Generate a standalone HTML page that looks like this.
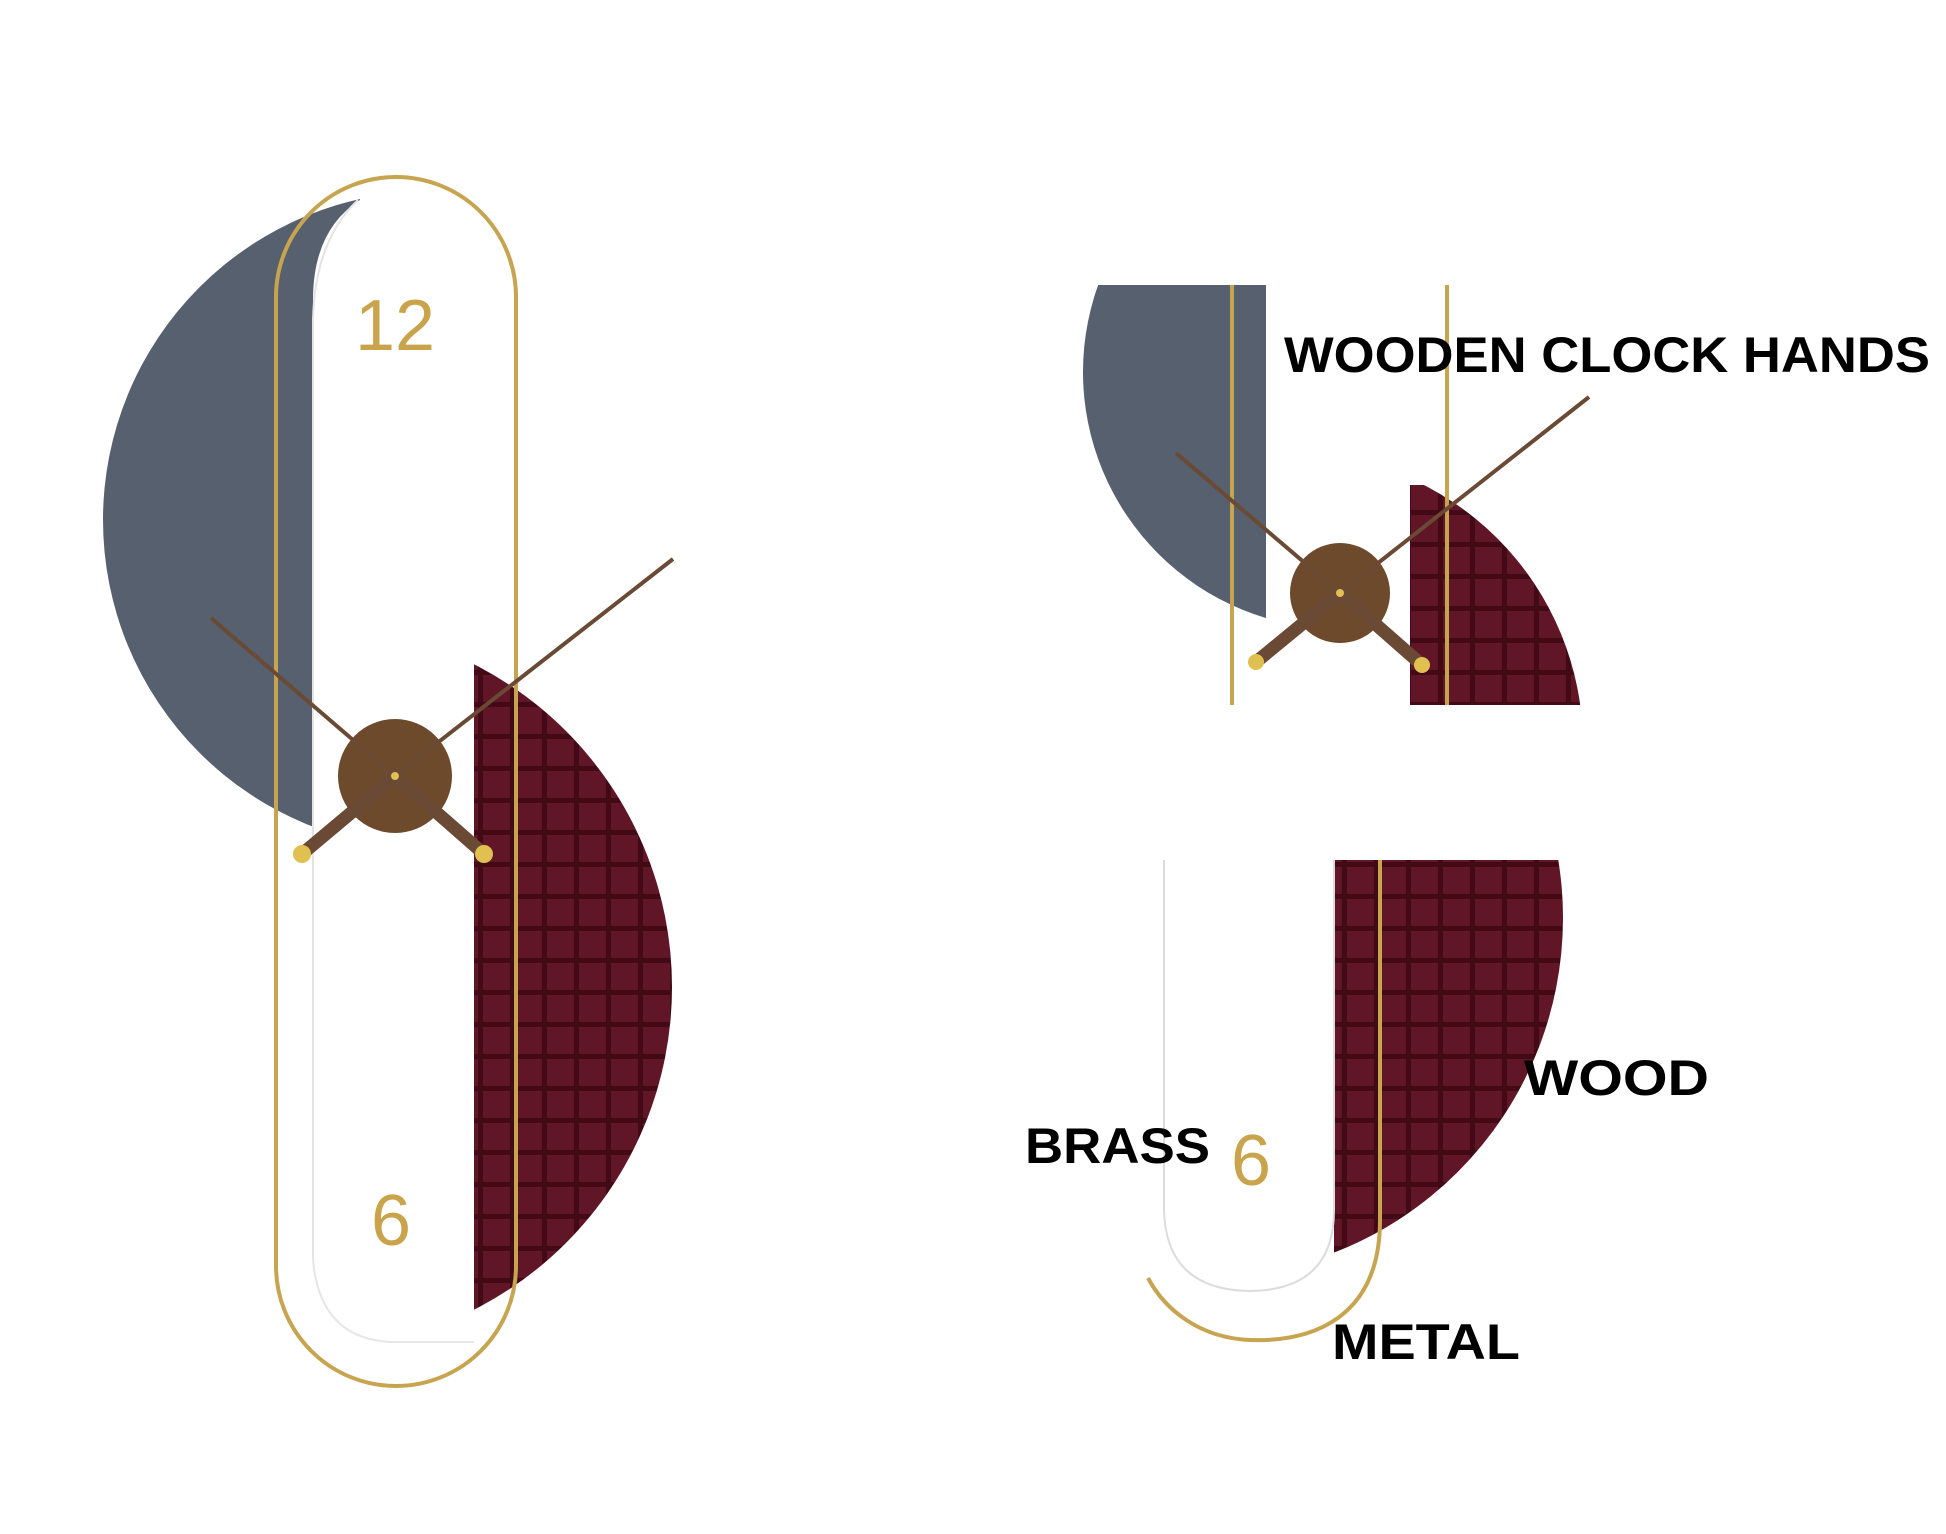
<!DOCTYPE html>
<html><head><meta charset="utf-8"><style>
html,body{margin:0;padding:0;background:#fff;}
svg{display:block;}
text{font-family:"Liberation Sans",sans-serif;font-weight:bold;}
</style></head><body>
<svg width="1946" height="1534" viewBox="0 0 1946 1534" xmlns="http://www.w3.org/2000/svg">
<defs>
<pattern id="grid" x="0" y="0" width="32" height="32" patternUnits="userSpaceOnUse">
<rect width="32" height="32" fill="#420a16"/>
<rect x="3" y="3" width="27" height="27" fill="#601626"/>
</pattern>
<clipPath id="cg1"><rect x="0" y="0" width="360" height="1534"/></clipPath>
<clipPath id="cm1"><rect x="473" y="656" width="400" height="800"/></clipPath>
<clipPath id="cg2"><rect x="1083" y="285" width="183" height="420"/></clipPath>
<clipPath id="cm2"><rect x="1410" y="485" width="175" height="220"/></clipPath>
<clipPath id="cm3"><rect x="1334" y="860" width="230" height="480"/></clipPath>
</defs>
<rect width="1946" height="1534" fill="#fff"/>

<!-- LEFT CLOCK -->
<circle cx="432" cy="520" r="329" fill="#56606e" clip-path="url(#cg1)"/>
<circle cx="310" cy="987" r="362" fill="url(#grid)" clip-path="url(#cm1)"/>
<path d="M313,1340 L313,300 Q313,230 360,200 L474,200 L474,1340 Z" fill="#fff"/>
<path d="M313,1260 L313,320 Q315,240 358,200" fill="none" stroke="#e4e4e4" stroke-width="2"/>
<path d="M313,1260 Q320,1340 393,1342 L474,1342" fill="none" stroke="#e6e6e6" stroke-width="2"/>
<rect x="276" y="177" width="240" height="1209" rx="120" ry="120" fill="none" stroke="#c7a450" stroke-width="4"/>
<text x="395" y="350" font-size="72" fill="#c9a44c" text-anchor="middle" style="font-weight:normal">12</text>
<text x="391" y="1245" font-size="72" fill="#c9a44c" text-anchor="middle" style="font-weight:normal">6</text>
<circle cx="395" cy="776" r="57" fill="#6e4a2c"/>
<line x1="395" y1="776" x2="673" y2="559" stroke="#6a4a34" stroke-width="4"/>
<line x1="395" y1="776" x2="211" y2="618" stroke="#6a4a34" stroke-width="4"/>
<line x1="395" y1="776" x2="302" y2="854" stroke="#6a4a34" stroke-width="13" stroke-linecap="round"/>
<line x1="395" y1="776" x2="484" y2="854" stroke="#6a4a34" stroke-width="13" stroke-linecap="round"/>
<circle cx="302" cy="854" r="9" fill="#e0c050"/>
<circle cx="484" cy="854" r="9" fill="#e0c050"/>
<circle cx="395" cy="776" r="4" fill="#e0c050"/>

<!-- RIGHT TOP -->
<circle cx="1340" cy="372" r="257" fill="#56606e" clip-path="url(#cg2)"/>
<circle cx="1291" cy="745" r="292" fill="url(#grid)" clip-path="url(#cm2)"/>
<line x1="1232" y1="285" x2="1232" y2="705" stroke="#c7a450" stroke-width="4"/>
<line x1="1447" y1="285" x2="1447" y2="705" stroke="#c7a450" stroke-width="4"/>
<circle cx="1340" cy="593" r="50" fill="#6e4a2c"/>
<line x1="1340" y1="593" x2="1589" y2="397" stroke="#6a4a34" stroke-width="4"/>
<line x1="1340" y1="593" x2="1176" y2="453" stroke="#6a4a34" stroke-width="4"/>
<line x1="1340" y1="593" x2="1256" y2="662" stroke="#6a4a34" stroke-width="13" stroke-linecap="round"/>
<line x1="1340" y1="593" x2="1422" y2="665" stroke="#6a4a34" stroke-width="13" stroke-linecap="round"/>
<circle cx="1256" cy="662" r="8" fill="#e0c050"/>
<circle cx="1422" cy="665" r="8" fill="#e0c050"/>
<circle cx="1340" cy="593" r="4" fill="#e0c050"/>
<text x="1284" y="372" font-size="50" fill="#000" textLength="646" lengthAdjust="spacingAndGlyphs">WOODEN  CLOCK HANDS</text>

<!-- RIGHT BOTTOM -->
<circle cx="1204" cy="918" r="359" fill="url(#grid)" clip-path="url(#cm3)"/>
<path d="M1164,860 L1164,1210 Q1166,1290 1250,1291 Q1334,1290 1334,1210 L1334,860" fill="#fff" stroke="#dcdcdc" stroke-width="2"/>
<path d="M1380,860 L1380,1220 C1380,1320 1310,1342 1250,1340 C1200,1338 1165,1310 1148,1278" fill="none" stroke="#c7a450" stroke-width="4"/>
<text x="1251" y="1185" font-size="72" fill="#c9a44c" text-anchor="middle" style="font-weight:normal">6</text>
<text x="1025" y="1163" font-size="50" fill="#000" textLength="185" lengthAdjust="spacingAndGlyphs">BRASS</text>
<text x="1524" y="1095" font-size="50" fill="#000" textLength="185" lengthAdjust="spacingAndGlyphs">WOOD</text>
<text x="1332" y="1359" font-size="50" fill="#000" textLength="188" lengthAdjust="spacingAndGlyphs">METAL</text>
</svg>
</body></html>
